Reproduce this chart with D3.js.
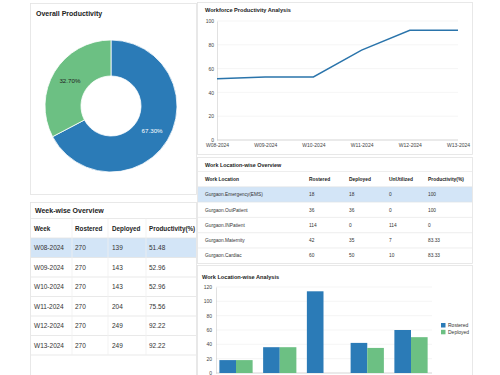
<!DOCTYPE html>
<html>
<head>
<meta charset="utf-8">
<script src="https://cdn.jsdelivr.net/npm/d3@7"></script>
<style>
  body { margin: 0; background: #fff; }
  svg text { font-family: "Liberation Sans", Arial, sans-serif; }
</style>
</head>
<body>
<div id="canvas"></div>
<script>
"use strict";

/* ---------------- DATA ---------------- */

let overallLabels = ["Productive", "Unproductive"];
let overallValues = [67.30, 32.70];

let weeks = ["W08-2024", "W09-2024", "W10-2024", "W11-2024", "W12-2024", "W13-2024"];
let weekRostered = [270, 270, 270, 270, 270, 270];
let weekDeployed = [139, 143, 143, 204, 249, 249];
let weekProductivity = [51.48, 52.96, 52.96, 75.56, 92.22, 92.22];

let locations = ["Gurgaon.Emergency(EMS)", "Gurgaon.OutPatient", "Gurgaon.INPatient", "Gurgaon.Maternity", "Gurgaon.Cardiac"];
let locRostered = [18, 36, 114, 42, 60];
let locDeployed = [18, 36, 0, 35, 50];
let locUnutilized = [0, 0, 114, 7, 10];
let locProductivity = ["100", "100", "0", "83.33", "83.33"];

let lineTicks = [0, 20, 40, 60, 80, 100];
let barTicks = [0, 20, 40, 60, 80, 100, 120];

/* ---------------- SETUP ---------------- */

let svgWidth = 500;
let svgHeight = 375;

let blue = "#2b7bb7";
let green = "#6cc083";
let border = "#e3e3e3";
let highlight = "#d3e5f7";

let svg = d3.select("#canvas")
    .append("svg")
    .attr("width", svgWidth)
    .attr("height", svgHeight);

function panel(x, y, w, h) {
    svg.append("rect")
        .attr("x", x).attr("y", y)
        .attr("width", w).attr("height", h)
        .attr("fill", "#fff")
        .attr("stroke", border)
        .attr("stroke-width", 0.8);
}

function title(x, y, text, size) {
    svg.append("text")
        .attr("x", x).attr("y", y)
        .attr("font-size", size)
        .attr("font-weight", "bold")
        .attr("fill", "#222")
        .text(text);
}

/* ---------------- PANELS ---------------- */

panel(30.5, 3.5, 166, 191);
panel(30.5, 202.5, 166, 180);
panel(197.5, 2.5, 275, 152);
panel(197.5, 157.5, 275, 106);
panel(197.5, 265.5, 275, 115);

/* ---------------- DONUT ---------------- */

title(36, 15.5, "Overall Productivity", 7);

let pie = d3.pie().sort(null).value(function (d) { return d; });
let arcs = pie(overallValues);
let arc = d3.arc().innerRadius(30).outerRadius(66);
let labelArc = d3.arc().innerRadius(48).outerRadius(48);

let donut = svg.append("g").attr("transform", "translate(111,106)");

donut.selectAll("path")
    .data(arcs)
    .enter()
    .append("path")
    .attr("d", arc)
    .attr("fill", function (d, i) { return i === 0 ? blue : green; })
    .attr("stroke", "#fff")
    .attr("stroke-width", 0.8);

donut.selectAll("text")
    .data(arcs)
    .enter()
    .append("text")
    .attr("transform", function (d) { return "translate(" + labelArc.centroid(d) + ")"; })
    .attr("text-anchor", "middle")
    .attr("dy", "0.35em")
    .attr("font-size", 6.2)
    .attr("fill", function (d, i) { return i === 0 ? "#fff" : "#222"; })
    .text(function (d) { return d.data.toFixed(2) + "%"; });

/* ---------------- WEEK TABLE ---------------- */

title(35, 213, "Week-wise Overview", 7);

let wkCols = [34, 75, 112, 149];
let wkSeps = [72, 108, 146];
let wkTop = 218.5;
let wkRowH = 19.5;
let wkHeader = ["Week", "Rostered", "Deployed", "Productivity(%)"];

svg.append("rect")
    .attr("x", 31).attr("y", wkTop + wkRowH)
    .attr("width", 165).attr("height", wkRowH)
    .attr("fill", highlight);

for (let i = 0; i <= weeks.length + 1; i++) {
    svg.append("line")
        .attr("x1", 31).attr("x2", 196)
        .attr("y1", wkTop + i * wkRowH).attr("y2", wkTop + i * wkRowH)
        .attr("stroke", border).attr("stroke-width", 0.8);
}
wkSeps.forEach(function (x) {
    svg.append("line")
        .attr("x1", x).attr("x2", x)
        .attr("y1", wkTop).attr("y2", wkTop + (weeks.length + 1) * wkRowH)
        .attr("stroke", "#f0f0f0").attr("stroke-width", 0.8);
});

wkHeader.forEach(function (h, j) {
    svg.append("text")
        .attr("x", wkCols[j]).attr("y", wkTop + wkRowH / 2 + 2.3)
        .attr("font-size", 6.3).attr("font-weight", "bold").attr("fill", "#222")
        .text(h);
});

weeks.forEach(function (w, i) {
    let row = [w, weekRostered[i], weekDeployed[i], weekProductivity[i].toFixed(2)];
    row.forEach(function (v, j) {
        svg.append("text")
            .attr("x", wkCols[j]).attr("y", wkTop + (i + 1.5) * wkRowH + 2.3)
            .attr("font-size", 6.5).attr("fill", "#333")
            .text(v);
    });
});

/* ---------------- LINE CHART ---------------- */

title(205, 12, "Workforce Productivity Analysis", 5.6);

let xLine = d3.scalePoint().domain(weeks).range([217, 458]);
let yLine = d3.scaleLinear().domain([0, 100]).range([140, 21]);

let lineGrid = svg.append("g");
lineGrid.selectAll("line")
    .data(lineTicks)
    .enter()
    .append("line")
    .attr("x1", 217).attr("x2", 458)
    .attr("y1", function (d) { return yLine(d); })
    .attr("y2", function (d) { return yLine(d); })
    .attr("stroke", function (d) { return d === 0 ? "#bbb" : "#eee"; })
    .attr("stroke-width", 0.6);

let yLineAxis = svg.append("g")
    .attr("transform", "translate(217,0)")
    .call(d3.axisLeft(yLine).tickValues(lineTicks).tickSize(0).tickPadding(3));
yLineAxis.select(".domain").attr("stroke", "#ccc").attr("stroke-width", 0.6);
yLineAxis.selectAll("text").attr("font-size", 5).attr("fill", "#444")
    .attr("font-family", "Liberation Sans, Arial, sans-serif");

let xLineAxis = svg.append("g")
    .attr("transform", "translate(0,140)")
    .call(d3.axisBottom(xLine).tickSize(0).tickPadding(3));
xLineAxis.select(".domain").remove();
xLineAxis.selectAll("text").attr("font-size", 5).attr("fill", "#444")
    .attr("font-family", "Liberation Sans, Arial, sans-serif");

let line = d3.line()
    .x(function (d, i) { return xLine(weeks[i]); })
    .y(function (d) { return yLine(d); });

svg.append("path")
    .datum(weekProductivity)
    .attr("d", line)
    .attr("fill", "none")
    .attr("stroke", "#2a74ab")
    .attr("stroke-width", 1.4);

/* ---------------- LOCATION TABLE ---------------- */

title(205, 167, "Work Location-wise Overview", 5.4);

let locCols = [205, 309, 349, 389, 428];
let locTop = 171.5;
let locRowH = 15.3;
let locHeader = ["Work Location", "Rostered", "Deployed", "UnUtilized", "Productivity(%)"];

svg.append("rect")
    .attr("x", 198).attr("y", locTop + locRowH)
    .attr("width", 274).attr("height", locRowH)
    .attr("fill", highlight);

for (let i = 0; i <= locations.length; i++) {
    svg.append("line")
        .attr("x1", 198).attr("x2", 472)
        .attr("y1", locTop + i * locRowH).attr("y2", locTop + i * locRowH)
        .attr("stroke", border).attr("stroke-width", 0.6);
}

locHeader.forEach(function (h, j) {
    svg.append("text")
        .attr("x", locCols[j]).attr("y", locTop + locRowH / 2 + 1.8)
        .attr("font-size", 4.9).attr("font-weight", "bold").attr("fill", "#222")
        .text(h);
});

locations.forEach(function (loc, i) {
    let row = [loc, locRostered[i], locDeployed[i], locUnutilized[i], locProductivity[i]];
    row.forEach(function (v, j) {
        svg.append("text")
            .attr("x", locCols[j]).attr("y", locTop + (i + 1.5) * locRowH + 1.8)
            .attr("font-size", 4.8).attr("fill", "#333")
            .text(v);
    });
});

/* ---------------- BAR CHART ---------------- */

title(202, 279, "Work Location-wise Analysis", 5.6);

let xBar = d3.scaleBand().domain(locations).range([215, 432]).paddingInner(0.24).paddingOuter(0.1);
let xSub = d3.scaleBand().domain(["Rostered", "Deployed"]).range([0, xBar.bandwidth()]);
let yBar = d3.scaleLinear().domain([0, 120]).range([373, 287]);

svg.append("g").selectAll("line")
    .data(barTicks)
    .enter()
    .append("line")
    .attr("x1", 216).attr("x2", 432)
    .attr("y1", function (d) { return yBar(d); })
    .attr("y2", function (d) { return yBar(d); })
    .attr("stroke", function (d) { return d === 0 ? "#bbb" : "#eee"; })
    .attr("stroke-width", 0.6);

let yBarAxis = svg.append("g")
    .attr("transform", "translate(216,0)")
    .call(d3.axisLeft(yBar).tickValues(barTicks).tickSize(0).tickPadding(4));
yBarAxis.select(".domain").attr("stroke", "#ccc").attr("stroke-width", 0.6);
yBarAxis.selectAll("text").attr("font-size", 5).attr("fill", "#444")
    .attr("font-family", "Liberation Sans, Arial, sans-serif");

let groups = svg.append("g").selectAll("g")
    .data(locations)
    .enter()
    .append("g")
    .attr("transform", function (d) { return "translate(" + xBar(d) + ",0)"; });

groups.append("rect")
    .attr("x", xSub("Rostered"))
    .attr("y", function (d, i) { return yBar(locRostered[i]); })
    .attr("width", xSub.bandwidth())
    .attr("height", function (d, i) { return yBar(0) - yBar(locRostered[i]); })
    .attr("fill", blue);

groups.append("rect")
    .attr("x", xSub("Deployed"))
    .attr("y", function (d, i) { return yBar(locDeployed[i]); })
    .attr("width", xSub.bandwidth())
    .attr("height", function (d, i) { return yBar(0) - yBar(locDeployed[i]); })
    .attr("fill", green);

/* legend */
let legend = [["Rostered", blue], ["Deployed", green]];
legend.forEach(function (l, i) {
    svg.append("rect")
        .attr("x", 441).attr("y", 323 + i * 6.8)
        .attr("width", 4.5).attr("height", 4.5)
        .attr("fill", l[1]);
    svg.append("text")
        .attr("x", 448).attr("y", 327.2 + i * 6.8)
        .attr("font-size", 5).attr("fill", "#333")
        .text(l[0]);
});
</script>
</body>
</html>
